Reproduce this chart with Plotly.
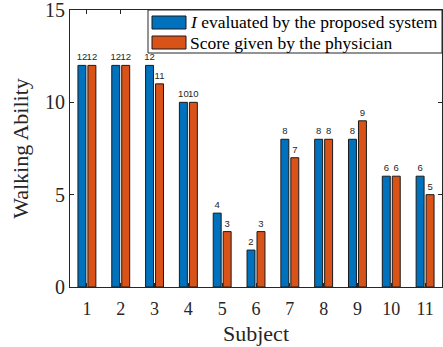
import plotly.graph_objects as go

subjects = [1, 2, 3, 4, 5, 6, 7, 8, 9, 10, 11]
system_scores = [12, 12, 12, 10, 4, 2, 8, 8, 8, 6, 6]
physician_scores = [12, 12, 11, 10, 3, 3, 7, 8, 9, 6, 5]
series_names = ["<i>I</i> evaluated by the proposed system", "Score given by the physician"]
colors = ["#0072BD", "#D95319"]
y_ticks = [0, 5, 10, 15]

W, H = 443, 347
L, R, T, B = 70, 1, 10, 60
pw, ph = W - L - R, H - T - B

def px(x):
    return (x - L) / pw

def py(y):
    return 1 - (y - T) / ph

SERIF = "Liberation Serif"
SANS = "Liberation Sans"

fig = go.Figure()
bw = 0.235
offsets = [-0.265, 0.03]
for vals, name, col, off in zip([system_scores, physician_scores], series_names, colors, offsets):
    fig.add_trace(go.Bar(
        x=subjects, y=vals, name=name, width=bw, offset=off,
        marker=dict(color=col, line=dict(color="#1a1a1a", width=1)),
        text=[str(v) for v in vals], textposition="outside",
        textfont=dict(family=SANS, size=9.5, color="#262626"),
        constraintext="none", cliponaxis=False, showlegend=False,
    ))

# manual legend
shapes = [dict(type="rect", xref="paper", yref="paper",
               x0=px(148), x1=px(442), y0=py(53), y1=py(10),
               line=dict(color="#262626", width=1), fillcolor="white", layer="above")]
annotations = []
for i, (name, col) in enumerate(zip(series_names, colors)):
    yc = 22.5 + 20 * i
    shapes.append(dict(type="rect", xref="paper", yref="paper",
                       x0=px(152), x1=px(186), y0=py(yc + 6.5), y1=py(yc - 6.5),
                       line=dict(color="#1a1a1a", width=1), fillcolor=col, layer="above"))
    annotations.append(dict(xref="paper", yref="paper", x=px(188), y=py(yc),
                            text=name, showarrow=False, xanchor="left", yanchor="middle",
                            font=dict(family=SERIF, size=17.5, color="#000000")))

fig.update_layout(
    width=W, height=H,
    margin=dict(l=L, r=R, t=T, b=B, autoexpand=False),
    paper_bgcolor="white", plot_bgcolor="white",
    barmode="overlay",
    font=dict(family=SERIF),
    shapes=shapes, annotations=annotations,
    xaxis=dict(range=[0.5, 11.5], tickvals=subjects, ticktext=[str(s) for s in subjects],
               ticks="inside", ticklen=4, tickcolor="#262626", showline=True, linecolor="#262626",
               linewidth=1, mirror="ticks", showgrid=False, zeroline=False, automargin=False,
               ticklabeloverflow="allow", ticklabelstandoff=5,
               tickfont=dict(family=SERIF, size=18, color="#262626"),
               title=dict(text="Subject", font=dict(family=SERIF, size=22, color="#262626"), standoff=8)),
    yaxis=dict(range=[0, 15], tickvals=y_ticks, ticks="inside", ticklen=4, tickcolor="#262626",
               showline=True, linecolor="#262626", linewidth=1, mirror="ticks", showgrid=False,
               zeroline=False, automargin=False, ticklabeloverflow="allow",
               tickfont=dict(family=SERIF, size=20, color="#262626"),
               title=dict(text="Walking Ability", font=dict(family=SERIF, size=22, color="#262626"), standoff=10)),
)

fig.write_html("out.html", config={"displayModeBar": False},
               post_script="document.body.style.margin='0';")
